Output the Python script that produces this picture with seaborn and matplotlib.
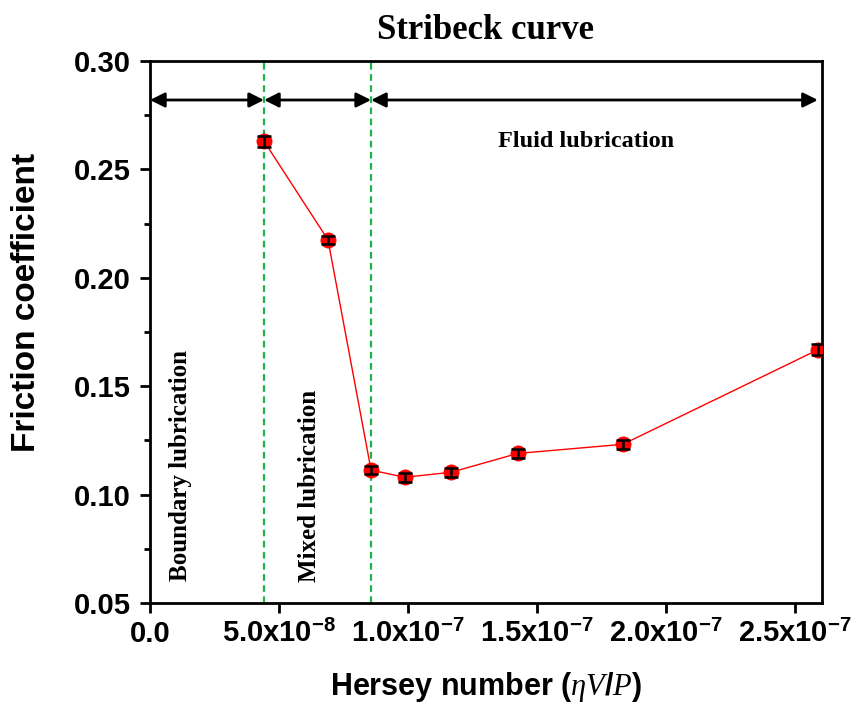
import pandas as pd
import seaborn as sns
from matplotlib import pyplot as plt
from matplotlib import ticker

# Stribeck curve data
hersey = [4.42e-8, 6.90e-8, 8.57e-8, 9.88e-8, 1.167e-7, 1.426e-7, 1.833e-7, 2.589e-7]
friction = [0.263, 0.2175, 0.1113, 0.108, 0.1103, 0.1190, 0.1232, 0.1668]
friction_err = [0.0025, 0.002, 0.002, 0.002, 0.002, 0.002, 0.002, 0.0025]

# regime boundaries along the x axis
regime_edges = [0.0, 4.42e-8, 8.57e-8, 2.589e-7]
arrow_y = 0.282

x_ticks = [0.0, 5e-8, 1e-7, 1.5e-7, 2e-7, 2.5e-7]
x_tick_labels = ["0.0", r"5.0x10$^{-8}$", r"1.0x10$^{-7}$", r"1.5x10$^{-7}$",
                 r"2.0x10$^{-7}$", r"2.5x10$^{-7}$"]
y_ticks = [0.05, 0.10, 0.15, 0.20, 0.25, 0.30]

df = pd.DataFrame({"hersey": hersey, "friction": friction, "err": friction_err})

sns.set_style("ticks")
plt.rcParams["font.family"] = ["Liberation Sans", "DejaVu Sans"]
plt.rcParams["mathtext.fontset"] = "custom"
plt.rcParams["mathtext.rm"] = "Liberation Sans:bold"
plt.rcParams["mathtext.it"] = "Liberation Serif:italic"
plt.rcParams["text.color"] = "black"
plt.rcParams["axes.labelcolor"] = "black"
plt.rcParams["xtick.color"] = "black"
plt.rcParams["ytick.color"] = "black"
plt.rcParams["axes.edgecolor"] = "black"

fig = plt.figure(figsize=(8.62, 7.19), dpi=100)
ax = fig.add_axes([0.174, 0.1613, 0.7796, 0.7539])

sns.lineplot(data=df, x="hersey", y="friction", color="red", lw=1.0, ax=ax, zorder=2)
sns.scatterplot(data=df, x="hersey", y="friction", color="red", s=120,
                edgecolor="red", linewidth=0.5, ax=ax, zorder=3)
ax.errorbar(df["hersey"], df["friction"], yerr=df["err"], fmt="none",
            ecolor="black", elinewidth=1.8, capsize=5, capthick=1.8, zorder=4)

serif = ["Liberation Serif", "DejaVu Serif"]
for xb in regime_edges[1:3]:
    ax.axvline(xb, color="#1db34a", ls=(0, (3, 2)), lw=1.6, zorder=1)

for x0, x1 in zip(regime_edges[:-1], regime_edges[1:]):
    ax.annotate("", xy=(x1, arrow_y), xytext=(x0, arrow_y),
                arrowprops=dict(arrowstyle="<|-|>", color="black", lw=2,
                                mutation_scale=22, shrinkA=0, shrinkB=0))

ax.text(1.69e-7, 0.2628, "Fluid lubrication", family=serif, weight="bold",
        fontsize=17.5, ha="center", va="center")
ax.text(1.2e-8, 0.1132, "Boundary lubrication", family=serif, weight="bold",
        fontsize=18, rotation=90, ha="center", va="center")
ax.text(6.2e-8, 0.1040, "Mixed lubrication", family=serif, weight="bold",
        fontsize=18, rotation=90, ha="center", va="center")

ax.set_xlim(0, 2.605e-7)
ax.set_ylim(0.05, 0.30)
ax.set_xticks(x_ticks)
ax.set_xticklabels(x_tick_labels)
ax.set_yticks(y_ticks)
ax.yaxis.set_major_formatter(ticker.FormatStrFormatter("%.2f"))
ax.yaxis.set_minor_locator(ticker.MultipleLocator(0.025))
ax.tick_params(axis="both", which="major", labelsize=21, width=2, length=7,
               direction="out")
ax.tick_params(axis="y", which="major", pad=7)
ax.tick_params(axis="x", which="major", pad=5)
ax.tick_params(axis="y", which="minor", width=2, length=4, direction="out")
for lab in ax.get_xticklabels() + ax.get_yticklabels():
    lab.set_fontweight("bold")
for sp in ax.spines.values():
    sp.set_linewidth(2)
    sp.set_visible(True)

ax.set_xlabel(r"Hersey number ($\eta V/P$)", fontsize=22, weight="bold", labelpad=16)
ax.set_ylabel("Friction coefficient", fontsize=24, weight="bold")
ax.yaxis.set_label_coords(-0.16, 0.555)
ax.set_title("Stribeck curve", family=serif, weight="bold", fontsize=25, pad=16)

plt.savefig("out.png", dpi=100)
